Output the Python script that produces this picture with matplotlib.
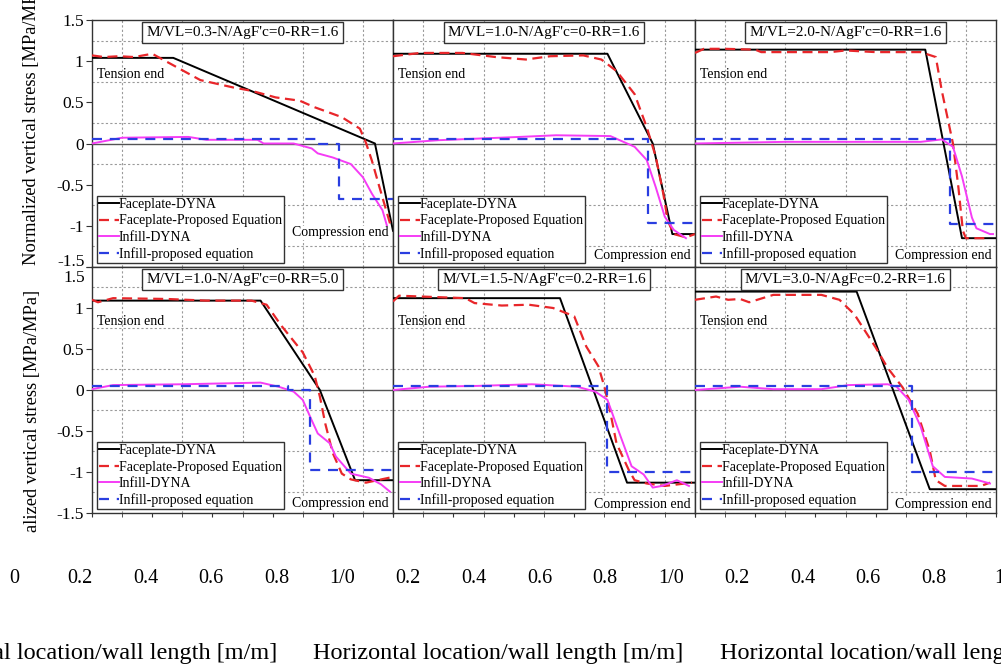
import matplotlib
matplotlib.use('Agg')
import matplotlib.pyplot as plt
from matplotlib.transforms import blended_transform_factory

plt.rcParams['font.family'] = ['Liberation Serif', 'DejaVu Serif']

# ---- data ----
titles = ["M/VL=0.3-N/AgF'c=0-RR=1.6", "M/VL=1.0-N/AgF'c=0-RR=1.6", "M/VL=2.0-N/AgF'c=0-RR=1.6",
          "M/VL=1.0-N/AgF'c=0-RR=5.0", "M/VL=1.5-N/AgF'c=0.2-RR=1.6", "M/VL=3.0-N/AgFc=0.2-RR=1.6"]
series_names = ['Faceplate-DYNA', 'Faceplate-Proposed Equation', 'Infill-DYNA', 'Infill-proposed equation']

# panel 1: M/VL=0.3
p1_fp_x = [0, 0.27, 0.94, 1.0]
p1_fp_y = [1.04, 1.04, 0, -1.06]
p1_fpe_x = [0, 0.04, 0.09, 0.14, 0.2, 0.27, 0.36, 0.47, 0.53, 0.61, 0.69, 0.74, 0.83, 0.89, 0.91, 0.93, 0.955, 0.99]
p1_fpe_y = [1.07, 1.05, 1.06, 1.05, 1.09, 0.95, 0.77, 0.68, 0.64, 0.56, 0.52, 0.44, 0.32, 0.18, 0.01, -0.21, -0.53, -0.97]
p1_in_x = [0, 0.1, 0.32, 0.38, 0.55, 0.57, 0.67, 0.73, 0.75, 0.8, 0.86, 0.9, 0.93, 0.965, 0.98]
p1_in_y = [0, 0.07, 0.08, 0.045, 0.045, 0.0, 0.0, -0.06, -0.12, -0.17, -0.25, -0.41, -0.61, -0.81, -1.0]
p1_ine_x = [0, 0.745, 0.745, 0.82, 0.82, 1.0]
p1_ine_y = [0.05, 0.05, 0, 0, -0.68, -0.68]

# panel 2: M/VL=1.0
p2_fp_x = [0, 0.71, 0.86, 0.925, 1.0]
p2_fp_y = [1.09, 1.09, 0, -1.1, -1.1]
p2_fpe_x = [0, 0.09, 0.23, 0.34, 0.44, 0.52, 0.63, 0.69, 0.74, 0.8, 0.84, 0.87, 0.895, 0.91, 0.93, 0.97, 1.0]
p2_fpe_y = [1.06, 1.1, 1.1, 1.05, 1.02, 1.06, 1.07, 1.02, 0.88, 0.6, 0.2, -0.16, -0.61, -0.94, -1.1, -1.14, -1.1]
p2_in_x = [0, 0.15, 0.42, 0.54, 0.72, 0.8, 0.84, 0.87, 0.9, 0.93, 0.97]
p2_in_y = [0, 0.04, 0.08, 0.1, 0.09, -0.04, -0.2, -0.53, -0.89, -1.05, -1.15]
p2_ine_x = [0, 0.845, 0.845, 1.0]
p2_ine_y = [0.05, 0.05, -0.96, -0.96]

# panel 3: M/VL=2.0
p3_fp_x = [0, 0.765, 0.887, 1.0]
p3_fp_y = [1.14, 1.14, -1.15, -1.15]
p3_fpe_x = [0, 0.03, 0.1, 0.2, 0.22, 0.45, 0.5, 0.6, 0.75, 0.8, 0.82, 0.857, 0.875, 0.89, 0.9, 0.97]
p3_fpe_y = [1.1, 1.15, 1.15, 1.14, 1.11, 1.11, 1.13, 1.11, 1.11, 1.05, 0.64, 0, -0.53, -1.06, -1.15, -1.15]
p3_in_x = [0, 0.3, 0.75, 0.82, 0.857, 0.887, 0.92, 0.935, 0.98, 0.99]
p3_in_y = [0, 0.02, 0.02, 0.05, -0.04, -0.4, -0.9, -1.03, -1.1, -1.1]
p3_ine_x = [0, 0.847, 0.847, 1.0]
p3_ine_y = [0.05, 0.05, -0.98, -0.98]

# panel 4: M/VL=1.0, RR=5.0
p4_fp_x = [0, 0.56, 0.757, 0.874, 1.0]
p4_fp_y = [1.09, 1.09, 0, -1.1, -1.1]
p4_fpe_x = [0, 0.02, 0.07, 0.25, 0.38, 0.53, 0.58, 0.63, 0.7, 0.74, 0.757, 0.775, 0.8, 0.83, 0.86, 0.91, 1.0]
p4_fpe_y = [1.1, 1.07, 1.12, 1.11, 1.09, 1.09, 1.04, 0.78, 0.46, 0.17, -0.08, -0.41, -0.77, -1.02, -1.09, -1.13, -1.06]
p4_in_x = [0, 0.07, 0.3, 0.56, 0.62, 0.67, 0.7, 0.73, 0.75, 0.79, 0.81, 0.86, 0.92, 0.96, 0.99]
p4_in_y = [0.01, 0.06, 0.07, 0.09, 0.04, -0.02, -0.12, -0.37, -0.53, -0.65, -0.81, -1.02, -1.07, -1.15, -1.24]
p4_ine_x = [0, 0.65, 0.65, 0.725, 0.725, 1.0]
p4_ine_y = [0.05, 0.05, 0, 0, -0.97, -0.97]

# panel 5: M/VL=1.5, N/AgF'c=0.2
p5_fp_x = [0, 0.553, 0.775, 1.0]
p5_fp_y = [1.12, 1.12, -1.13, -1.13]
p5_fpe_x = [0, 0.02, 0.24, 0.27, 0.36, 0.45, 0.53, 0.6, 0.64, 0.68, 0.7, 0.72, 0.74, 0.78, 0.8, 0.84, 0.9, 0.99]
p5_fpe_y = [1.08, 1.15, 1.12, 1.06, 1.03, 1.04, 1.0, 0.9, 0.53, 0.29, 0.04, -0.28, -0.65, -0.97, -1.1, -1.14, -1.17, -1.13]
p5_in_x = [0, 0.12, 0.28, 0.46, 0.61, 0.67, 0.71, 0.75, 0.79, 0.83, 0.86, 0.89, 0.94, 0.98]
p5_in_y = [0, 0.04, 0.05, 0.07, 0.04, -0.02, -0.12, -0.53, -0.93, -1.03, -1.19, -1.17, -1.1, -1.17]
p5_ine_x = [0, 0.71, 0.71, 1.0]
p5_ine_y = [0.05, 0.05, -1.0, -1.0]

# panel 6: M/VL=3.0, N/AgF'c=0.2
p6_fp_x = [0, 0.537, 0.78, 1.0]
p6_fp_y = [1.2, 1.2, -1.21, -1.21]
p6_fpe_x = [0, 0.07, 0.11, 0.15, 0.18, 0.26, 0.42, 0.48, 0.53, 0.6, 0.64, 0.69, 0.74, 0.78, 0.8, 0.83, 0.95, 0.98]
p6_fpe_y = [1.1, 1.14, 1.1, 1.11, 1.07, 1.16, 1.16, 1.1, 0.92, 0.52, 0.27, 0.03, -0.29, -0.74, -1.1, -1.17, -1.17, -1.13]
p6_in_x = [0, 0.15, 0.26, 0.42, 0.51, 0.64, 0.67, 0.71, 0.75, 0.79, 0.83, 0.92, 0.98]
p6_in_y = [0, 0.04, 0.01, 0.01, 0.06, 0.07, 0.04, -0.12, -0.45, -0.93, -1.06, -1.08, -1.14]
p6_ine_x = [0, 0.72, 0.72, 1.0]
p6_ine_y = [0.05, 0.05, -1.0, -1.0]

yticks = [-1.5, -1, -0.5, 0, 0.5, 1, 1.5]
ytick_labels = ['-1.5', '-1', '-0.5', '0', '0.5', '1', '1.5']
bottom_ticks = [0, 0.2, 0.4, 0.6, 0.8, 1, 1.2, 1.4, 1.6, 1.8, 2, 2.2, 2.4, 2.6, 2.8, 3]
bottom_labels = ['0', '0.2', '0.4', '0.6', '0.8', '1/0', '0.2', '0.4', '0.6', '0.8', '1/0',
                 '0.2', '0.4', '0.6', '0.8', '1']
xlabel = 'Horizontal location/wall length [m/m]'
ylabel = 'Normalized vertical stress [MPa/MPa]'

panels = [
    [(p1_fp_x, p1_fp_y), (p1_fpe_x, p1_fpe_y), (p1_in_x, p1_in_y), (p1_ine_x, p1_ine_y)],
    [(p2_fp_x, p2_fp_y), (p2_fpe_x, p2_fpe_y), (p2_in_x, p2_in_y), (p2_ine_x, p2_ine_y)],
    [(p3_fp_x, p3_fp_y), (p3_fpe_x, p3_fpe_y), (p3_in_x, p3_in_y), (p3_ine_x, p3_ine_y)],
    [(p4_fp_x, p4_fp_y), (p4_fpe_x, p4_fpe_y), (p4_in_x, p4_in_y), (p4_ine_x, p4_ine_y)],
    [(p5_fp_x, p5_fp_y), (p5_fpe_x, p5_fpe_y), (p5_in_x, p5_in_y), (p5_ine_x, p5_ine_y)],
    [(p6_fp_x, p6_fp_y), (p6_fpe_x, p6_fpe_y), (p6_in_x, p6_in_y), (p6_ine_x, p6_ine_y)],
]

# ---- styles / layout ----
styles = [
    dict(color='black', lw=1.4, ls='-'),
    dict(color='#e8262a', lw=1.6, ls=(0, (4.5, 2.5))),
    dict(color='#f53cf5', lw=1.4, ls='-'),
    dict(color='#2a3ee0', lw=1.6, ls=(0, (4.5, 3.5))),
]
comp_y = [0.138, 0.045, 0.045, 0.04, 0.033, 0.033]

W, H = 1001, 664
col_x = [92, 393, 695, 996]
row_y = [(20, 267), (267, 513)]

fig = plt.figure(figsize=(W / 100, H / 100), dpi=100)

for i, series in enumerate(panels):
    r, c = divmod(i, 3)
    top, bot = row_y[r]
    ax = fig.add_axes([col_x[c] / W, 1 - bot / H, (col_x[c + 1] - col_x[c]) / W, (bot - top) / H])
    ax.set_xlim(0, 1)
    ax.set_ylim(-1.5, 1.5)

    ax.axhline(0, color='#555555', lw=1.0, zorder=1)
    for (x, y), st, name in zip(series, styles, series_names):
        ax.plot(x, y, label=name, zorder=3, **st)

    # dotted grid on the minor positions only
    ax.set_xticks([0, 0.2, 0.4, 0.6, 0.8, 1.0])
    ax.set_xticks([0.1, 0.3, 0.5, 0.7, 0.9], minor=True)
    ax.set_yticks(yticks)
    ax.set_yticks([-1.25, -0.75, -0.25, 0.25, 0.75, 1.25], minor=True)
    ax.grid(which='minor', color='#9a9a9a', ls=(0, (2, 2)), lw=0.8)
    ax.set_xticklabels([])
    for s in ax.spines.values():
        s.set_color('#333333')
        s.set_linewidth(1.0)

    if r == 1:
        ax.tick_params(axis='x', which='both', direction='out', length=3, color='#333333')
    else:
        ax.tick_params(axis='x', which='both', length=0)

    if c == 0:
        ax.tick_params(axis='y', which='major', direction='out', length=4, pad=2,
                       labelsize=12.5, color='#333333')
        ax.tick_params(axis='y', which='minor', length=0)
        labs = list(ytick_labels)
        trans = blended_transform_factory(ax.transAxes, ax.transData)
        if r == 0:
            labs[0] = ''
            ax.text(-0.023, -1.44, '-1.5', transform=trans, ha='right', va='center', fontsize=12.5)
        else:
            labs[-1] = ''
            ax.text(-0.023, 1.36, '1.5', transform=trans, ha='right', va='center', fontsize=12.5)
        ax.set_yticklabels(labs)
    else:
        ax.tick_params(axis='y', which='both', length=0, labelleft=False)

    ax.text(0.5, 0.95, titles[i], transform=ax.transAxes, ha='center', va='center', fontsize=11,
            bbox=dict(boxstyle='square,pad=0.25', fc='white', ec='#333333', lw=1.0), zorder=5)
    ax.text(0.018, 0.78, 'Tension end', transform=ax.transAxes, ha='left', va='center', fontsize=10)
    ax.text(0.985, comp_y[i], 'Compression end', transform=ax.transAxes, ha='right', va='center',
            fontsize=10, bbox=dict(boxstyle='square,pad=0.05', fc='white', ec='none'), zorder=4)

    leg = ax.legend(loc='lower left', bbox_to_anchor=(0.015, 0.015), borderaxespad=0,
                    fontsize=10, handlelength=1.45, handletextpad=0.0, labelspacing=0.25,
                    borderpad=0.15, fancybox=False, framealpha=1, edgecolor='#333333')
    leg.get_frame().set_linewidth(1.0)
    leg.set_zorder(6)

# shifted bottom tick-label row of the stitched figure
axb = fig.add_axes([14 / W, 1 - 569 / H, 985.5 / W, 0.001])
axb.set_xlim(0, 3)
axb.set_xticks(bottom_ticks)
axb.set_xticklabels(bottom_labels)
axb.tick_params(axis='x', length=0, pad=0, labelsize=14.5)
axb.set_yticks([])
for s in axb.spines.values():
    s.set_visible(False)
axb.patch.set_alpha(0)

for cx in [92, 498, 905]:
    fig.text(cx / W, 1 - 653 / H, xlabel, ha='center', va='center', fontsize=17.5)

fig.text(32 / W, 1 - 265 / H, ylabel, rotation=90, ha='center', va='bottom', fontsize=13.3)
fig.text(33 / W, 1 - 290 / H, 'alized vertical stress [MPa/MPa]', rotation=90, ha='center', va='top',
         fontsize=13.3)

fig.savefig('out.png', dpi=100)
